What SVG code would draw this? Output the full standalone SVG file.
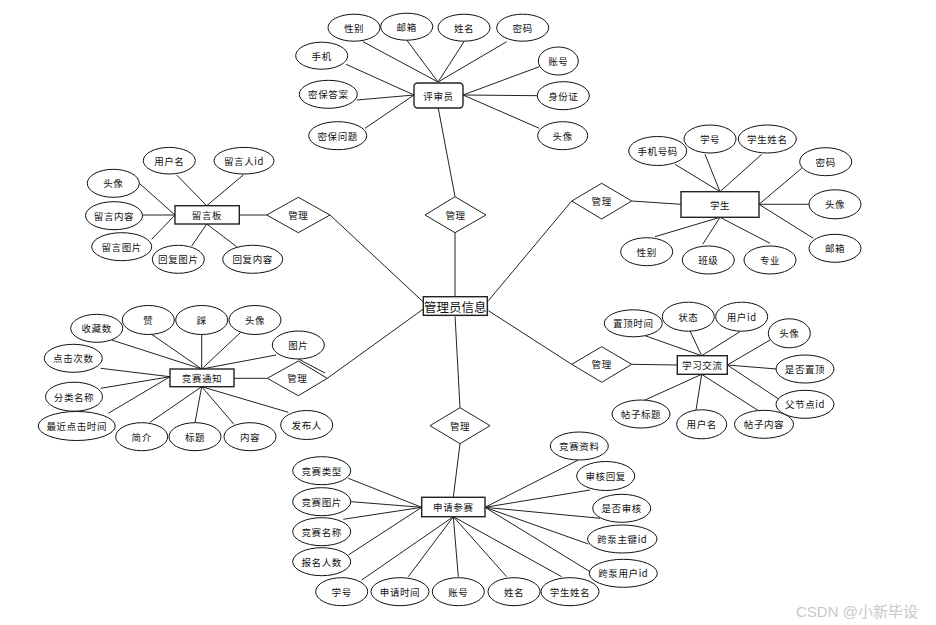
<svg xmlns="http://www.w3.org/2000/svg" width="936" height="625" viewBox="0 0 936 625">
<style>
.e{fill:#fff;stroke:#111;stroke-width:1}
.b{fill:#fff;stroke:#222;stroke-width:1.4}
.d{fill:#fff;stroke:#222;stroke-width:1}
.c{stroke:#222;stroke-width:1;fill:none}
text{font-family:"Noto Sans CJK SC","Noto Sans",sans-serif;font-size:9.5px;fill:#111;text-anchor:middle;dominant-baseline:central;letter-spacing:0.6px}
.big{font-size:12.5px;letter-spacing:0}
.wm{font-family:"Liberation Sans","Noto Sans CJK SC",sans-serif;font-size:15px;fill:#c8c8c8;text-anchor:start;letter-spacing:0}
</style>
<rect width="936" height="625" fill="#fff"/>
<g id="connectors">
<line class="c" x1="363" y1="41.7" x2="438" y2="82"/>
<line class="c" x1="406.7" y1="40" x2="438" y2="82"/>
<line class="c" x1="464" y1="41.7" x2="438" y2="82"/>
<line class="c" x1="506.7" y1="41.7" x2="438" y2="82"/>
<line class="c" x1="346" y1="64.3" x2="414" y2="95"/>
<line class="c" x1="356.7" y1="100" x2="414" y2="95"/>
<line class="c" x1="365" y1="128.3" x2="414" y2="95"/>
<line class="c" x1="539.3" y1="66.7" x2="463" y2="95"/>
<line class="c" x1="537.3" y1="95.7" x2="463" y2="95" stroke-width="1.6"/>
<line class="c" x1="539.3" y1="128.3" x2="463" y2="95"/>
<line class="c" x1="438.3" y1="108.3" x2="455" y2="196.7"/>
<line class="c" x1="455" y1="232.7" x2="455" y2="296.7"/>
<line class="c" x1="455" y1="315.3" x2="460" y2="407.7"/>
<line class="c" x1="460" y1="443.7" x2="453.3" y2="497.3"/>
<line class="c" x1="330" y1="215" x2="423.3" y2="302"/>
<line class="c" x1="327.3" y1="378.3" x2="423.3" y2="309"/>
<line class="c" x1="571.7" y1="201" x2="487.3" y2="302"/>
<line class="c" x1="571.7" y1="364.3" x2="487.3" y2="310"/>
<line class="c" x1="239.3" y1="215" x2="266.7" y2="215" stroke-width="1.6"/>
<line class="c" x1="234" y1="378.3" x2="267.3" y2="378.3" stroke-width="1.3"/>
<line class="c" x1="631.7" y1="201" x2="681" y2="204.3"/>
<line class="c" x1="631.7" y1="364.3" x2="677.3" y2="365" stroke-width="1.3"/>
<!-- 留言板 -->
<line class="c" x1="176.7" y1="175" x2="206.7" y2="205.7"/>
<line class="c" x1="243.3" y1="175" x2="206.7" y2="205.7"/>
<line class="c" x1="139.3" y1="183.3" x2="175" y2="215"/>
<line class="c" x1="142.7" y1="215" x2="175" y2="215" stroke-width="1.6"/>
<line class="c" x1="151.7" y1="239.3" x2="175" y2="215"/>
<line class="c" x1="191.7" y1="246" x2="206.7" y2="224"/>
<line class="c" x1="236.7" y1="246.7" x2="206.7" y2="224"/>
<!-- 学生 -->
<line class="c" x1="675" y1="164.3" x2="720" y2="191.7"/>
<line class="c" x1="705" y1="154.3" x2="720" y2="191.7"/>
<line class="c" x1="761.7" y1="154.3" x2="720" y2="191.7"/>
<line class="c" x1="801.7" y1="168.3" x2="759" y2="204.3"/>
<line class="c" x1="809.3" y1="204.3" x2="759" y2="204.3" stroke-width="1.6"/>
<line class="c" x1="813.3" y1="238.3" x2="759" y2="204.3"/>
<line class="c" x1="655" y1="236.7" x2="720" y2="217.3"/>
<line class="c" x1="702.7" y1="244.3" x2="720" y2="217.3"/>
<line class="c" x1="770" y1="243.3" x2="720" y2="217.3"/>
<!-- 竞赛通知 -->
<line class="c" x1="111.7" y1="340" x2="201.7" y2="369"/>
<line class="c" x1="151.7" y1="334.3" x2="201.7" y2="369"/>
<line class="c" x1="201.7" y1="334.3" x2="201.7" y2="369"/>
<line class="c" x1="240.7" y1="332.3" x2="201.7" y2="369"/>
<line class="c" x1="276" y1="355" x2="201.7" y2="369"/>
<line class="c" x1="100.7" y1="368.3" x2="170" y2="376.7"/>
<line class="c" x1="100.7" y1="388.3" x2="170" y2="376.7"/>
<line class="c" x1="108.3" y1="413.3" x2="170" y2="376.7"/>
<line class="c" x1="150" y1="422.3" x2="201.7" y2="386.7"/>
<line class="c" x1="195" y1="422.7" x2="201.7" y2="386.7"/>
<line class="c" x1="234" y1="424.3" x2="201.7" y2="386.7"/>
<line class="c" x1="288.3" y1="412.3" x2="201.7" y2="386.7"/>
<line class="c" x1="298.3" y1="359" x2="325" y2="373"/>
<!-- 学习交流 -->
<line class="c" x1="645" y1="335.7" x2="701.7" y2="355.7"/>
<line class="c" x1="690" y1="331" x2="701.7" y2="355.7"/>
<line class="c" x1="740" y1="331.7" x2="701.7" y2="355.7"/>
<line class="c" x1="770" y1="340" x2="727.3" y2="365"/>
<line class="c" x1="776.7" y1="369" x2="727.3" y2="365"/>
<line class="c" x1="782.7" y1="401.7" x2="727.3" y2="365"/>
<line class="c" x1="640" y1="402.3" x2="701.7" y2="374.3"/>
<line class="c" x1="696" y1="410" x2="701.7" y2="374.3"/>
<line class="c" x1="760" y1="411.7" x2="701.7" y2="374.3"/>
<!-- 申请参赛 -->
<line class="c" x1="348.3" y1="478.3" x2="421.7" y2="507.3"/>
<line class="c" x1="351" y1="501.7" x2="421.7" y2="507.3"/>
<line class="c" x1="343.3" y1="519.3" x2="421.7" y2="507.3"/>
<line class="c" x1="348.3" y1="555" x2="421.7" y2="507.3"/>
<line class="c" x1="361.7" y1="580" x2="453.3" y2="516.7"/>
<line class="c" x1="408.3" y1="576.7" x2="453.3" y2="516.7"/>
<line class="c" x1="458.3" y1="576.7" x2="453.3" y2="516.7"/>
<line class="c" x1="506.7" y1="576.7" x2="453.3" y2="516.7"/>
<line class="c" x1="561.7" y1="576.7" x2="453.3" y2="516.7"/>
<line class="c" x1="578.3" y1="460" x2="485" y2="507.3"/>
<line class="c" x1="590" y1="490" x2="485" y2="507.3"/>
<line class="c" x1="600" y1="518.3" x2="485" y2="507.3"/>
<line class="c" x1="588.3" y1="544" x2="485" y2="507.3"/>
<line class="c" x1="590" y1="571.7" x2="485" y2="507.3"/>
</g>

<g id="admin"><rect x="424.5" y="298" width="64" height="18.6" fill="#cfe0f0"/><rect class="b" x="423.3" y="296.7" width="64" height="18.6" stroke-width="1.2"/><text class="big" x="455.3" y="306">管理员信息</text></g>

<g id="rel-top"><polygon class="d" points="455,196.7 486,215 455,232.7 425,215"/><text x="455.5" y="215">管理</text></g>
<g id="rel-board"><polygon class="d" points="266.7,215 298.3,197.3 330,215 298.3,232.7"/><text x="298.3" y="215">管理</text></g>
<g id="rel-notice"><polygon class="d" points="267.3,378.3 298.3,361 327.3,378.3 298.3,395.7"/><text x="297.3" y="378.3">管理</text></g>
<g id="rel-student"><polygon class="d" points="571.7,201 601.7,183.3 631.7,201 601.7,219"/><text x="601.7" y="201">管理</text></g>
<g id="rel-study"><polygon class="d" points="571.7,364.3 601.7,346.7 631.7,364.3 601.7,382.3"/><text x="601.7" y="364.3">管理</text></g>
<g id="rel-apply"><polygon class="d" points="430,425.7 460,407.7 490,425.7 460,443.7"/><text x="460" y="425.7">管理</text></g>

<g id="reviewer"><rect class="b" x="414" y="83" width="49" height="25" rx="3.5" stroke-width="1.2"/><text x="438.5" y="95.5">评审员</text></g>
<g id="rv-gender"><ellipse class="e" cx="354" cy="27.7" rx="26" ry="13.5"/><text x="354" y="27.7">性别</text></g>
<g id="rv-email"><ellipse class="e" cx="406.7" cy="26.7" rx="26" ry="13.5"/><text x="406.7" y="26.7">邮箱</text></g>
<g id="rv-name"><ellipse class="e" cx="464" cy="27.7" rx="26" ry="13.5"/><text x="464" y="27.7">姓名</text></g>
<g id="rv-pwd"><ellipse class="e" cx="522.7" cy="27.7" rx="26" ry="13.5"/><text x="522.7" y="27.7">密码</text></g>
<g id="rv-phone"><ellipse class="e" cx="321.7" cy="55.7" rx="26" ry="13.5"/><text x="321.7" y="55.7">手机</text></g>
<g id="rv-ans"><ellipse class="e" cx="328.3" cy="94.3" rx="29" ry="14"/><text x="328.3" y="94.3">密保答案</text></g>
<g id="rv-q"><ellipse class="e" cx="337.7" cy="135.7" rx="29" ry="14"/><text x="337.7" y="135.7">密保问题</text></g>
<g id="rv-acct"><ellipse class="e" cx="558.3" cy="61" rx="20" ry="14"/><text x="558.3" y="61">账号</text></g>
<g id="rv-id"><ellipse class="e" cx="563.3" cy="95.7" rx="26" ry="14"/><text x="563.3" y="95.7">身份证</text></g>
<g id="rv-avatar"><ellipse class="e" cx="562.7" cy="135.7" rx="25" ry="14"/><text x="562.7" y="135.7">头像</text></g>

<g id="board"><rect class="b" x="175" y="205.7" width="64.3" height="18.3" stroke-width="1.6"/><text x="207" y="215">留言板</text></g>
<g id="bd-user"><ellipse class="e" cx="169.3" cy="160.7" rx="26" ry="13.3"/><text x="169.3" y="160.7">用户名</text></g>
<g id="bd-uid"><ellipse class="e" cx="244" cy="160.7" rx="30" ry="13.3"/><text x="244" y="160.7">留言人id</text></g>
<g id="bd-avatar"><ellipse class="e" cx="113.3" cy="183.3" rx="26" ry="14"/><text x="113.3" y="183.3">头像</text></g>
<g id="bd-content"><ellipse class="e" cx="114" cy="215.7" rx="28.5" ry="14"/><text x="114" y="215.7">留言内容</text></g>
<g id="bd-pic"><ellipse class="e" cx="121.7" cy="246.7" rx="30" ry="14"/><text x="121.7" y="246.7">留言图片</text></g>
<g id="bd-rpic"><ellipse class="e" cx="178.3" cy="259.3" rx="26" ry="14"/><text x="178.3" y="259.3">回复图片</text></g>
<g id="bd-rcontent"><ellipse class="e" cx="252.7" cy="259.3" rx="30" ry="14"/><text x="252.7" y="259.3">回复内容</text></g>

<g id="student"><rect class="b" x="681" y="191.7" width="78" height="25.6" stroke-width="1.2"/><text x="720" y="204.5">学生</text></g>
<g id="st-phone"><ellipse class="e" cx="657.7" cy="151" rx="29" ry="14.5"/><text x="657.7" y="151">手机号码</text></g>
<g id="st-no"><ellipse class="e" cx="710" cy="139" rx="26" ry="14"/><text x="710" y="139">学号</text></g>
<g id="st-name"><ellipse class="e" cx="767.3" cy="139" rx="29" ry="14"/><text x="767.3" y="139">学生姓名</text></g>
<g id="st-pwd"><ellipse class="e" cx="825.7" cy="161.7" rx="26" ry="14"/><text x="825.7" y="161.7">密码</text></g>
<g id="st-avatar"><ellipse class="e" cx="835" cy="204.3" rx="26" ry="14.5"/><text x="835" y="204.3">头像</text></g>
<g id="st-email"><ellipse class="e" cx="835" cy="248.3" rx="26" ry="14"/><text x="835" y="248.3">邮箱</text></g>
<g id="st-gender"><ellipse class="e" cx="646.7" cy="251.7" rx="26" ry="14"/><text x="646.7" y="251.7">性别</text></g>
<g id="st-class"><ellipse class="e" cx="708.3" cy="260" rx="26" ry="14"/><text x="708.3" y="260">班级</text></g>
<g id="st-major"><ellipse class="e" cx="770" cy="260" rx="26" ry="14"/><text x="770" y="260">专业</text></g>

<g id="notice"><rect class="b" x="170" y="369" width="64" height="17.7" stroke-width="1.6"/><text x="202" y="377.8">竞赛通知</text></g>
<g id="nt-fav"><ellipse class="e" cx="96.7" cy="328.3" rx="26" ry="14"/><text x="96.7" y="328.3">收藏数</text></g>
<g id="nt-up"><ellipse class="e" cx="148.3" cy="320" rx="26" ry="14.5"/><text x="148.3" y="320">赞</text></g>
<g id="nt-down"><ellipse class="e" cx="201.7" cy="320" rx="26" ry="14.5"/><text x="201.7" y="320">踩</text></g>
<g id="nt-avatar"><ellipse class="e" cx="255" cy="320" rx="26" ry="14.5"/><text x="255" y="320">头像</text></g>
<g id="nt-pic"><ellipse class="e" cx="298.3" cy="345" rx="26" ry="14"/><text x="298.3" y="345">图片</text></g>
<g id="nt-clicks"><ellipse class="e" cx="73.3" cy="358.3" rx="29" ry="14"/><text x="73.3" y="358.3">点击次数</text></g>
<g id="nt-cat"><ellipse class="e" cx="74" cy="396.7" rx="28.5" ry="14.5"/><text x="74" y="396.7">分类名称</text></g>
<g id="nt-last"><ellipse class="e" cx="76.7" cy="426" rx="38.5" ry="14.5"/><text x="76.7" y="426">最近点击时间</text></g>
<g id="nt-intro"><ellipse class="e" cx="141.7" cy="436.7" rx="26" ry="14"/><text x="141.7" y="436.7">简介</text></g>
<g id="nt-title"><ellipse class="e" cx="195" cy="436.7" rx="26" ry="14"/><text x="195" y="436.7">标题</text></g>
<g id="nt-content"><ellipse class="e" cx="250" cy="436.7" rx="26" ry="14"/><text x="250" y="436.7">内容</text></g>
<g id="nt-pub"><ellipse class="e" cx="306.7" cy="425" rx="26" ry="14.5"/><text x="306.7" y="425">发布人</text></g>

<g id="study"><rect class="b" x="677.3" y="355.7" width="50" height="18.6" stroke-width="1.8"/><text x="702.3" y="365">学习交流</text></g>
<g id="sd-toptime"><ellipse class="e" cx="633.3" cy="323.3" rx="29" ry="13.5"/><text x="633.3" y="323.3">置顶时间</text></g>
<g id="sd-state"><ellipse class="e" cx="688.3" cy="316.7" rx="26" ry="14.5"/><text x="688.3" y="316.7">状态</text></g>
<g id="sd-uid"><ellipse class="e" cx="741.7" cy="316.7" rx="26" ry="14.5"/><text x="741.7" y="316.7">用户id</text></g>
<g id="sd-avatar"><ellipse class="e" cx="789.3" cy="333.3" rx="21" ry="14.5"/><text x="789.3" y="333.3">头像</text></g>
<g id="sd-istop"><ellipse class="e" cx="805" cy="369" rx="29" ry="14"/><text x="805" y="369">是否置顶</text></g>
<g id="sd-parent"><ellipse class="e" cx="805" cy="404.3" rx="29" ry="14"/><text x="805" y="404.3">父节点id</text></g>
<g id="sd-ptitle"><ellipse class="e" cx="641" cy="414" rx="29" ry="14"/><text x="641" y="414">帖子标题</text></g>
<g id="sd-user"><ellipse class="e" cx="701.7" cy="424.3" rx="25" ry="14.5"/><text x="701.7" y="424.3">用户名</text></g>
<g id="sd-pcontent"><ellipse class="e" cx="764" cy="424.3" rx="29.5" ry="14"/><text x="764" y="424.3">帖子内容</text></g>

<g id="apply"><rect class="b" x="421.7" y="497.3" width="63.3" height="19.4" stroke-width="1.6"/><text x="453.3" y="507">申请参赛</text></g>
<g id="ap-type"><ellipse class="e" cx="321.7" cy="470.7" rx="29" ry="14"/><text x="321.7" y="470.7">竞赛类型</text></g>
<g id="ap-pic"><ellipse class="e" cx="321.7" cy="501.7" rx="29" ry="14"/><text x="321.7" y="501.7">竞赛图片</text></g>
<g id="ap-name"><ellipse class="e" cx="321.7" cy="531.7" rx="29" ry="14"/><text x="321.7" y="531.7">竞赛名称</text></g>
<g id="ap-count"><ellipse class="e" cx="321.7" cy="561.7" rx="29" ry="14"/><text x="321.7" y="561.7">报名人数</text></g>
<g id="ap-no"><ellipse class="e" cx="341.7" cy="591.7" rx="26" ry="14"/><text x="341.7" y="591.7">学号</text></g>
<g id="ap-time"><ellipse class="e" cx="400" cy="591.7" rx="29" ry="14"/><text x="400" y="591.7">申请时间</text></g>
<g id="ap-acct"><ellipse class="e" cx="458.3" cy="591.7" rx="26" ry="14"/><text x="458.3" y="591.7">账号</text></g>
<g id="ap-uname"><ellipse class="e" cx="514" cy="591.7" rx="26" ry="14"/><text x="514" y="591.7">姓名</text></g>
<g id="ap-sname"><ellipse class="e" cx="570" cy="591.7" rx="29" ry="14"/><text x="570" y="591.7">学生姓名</text></g>
<g id="ap-data"><ellipse class="e" cx="579.3" cy="446" rx="29" ry="14"/><text x="579.3" y="446">竞赛资料</text></g>
<g id="ap-reply"><ellipse class="e" cx="605.7" cy="476" rx="29" ry="14.5"/><text x="605.7" y="476">审核回复</text></g>
<g id="ap-audited"><ellipse class="e" cx="621.7" cy="508.3" rx="29" ry="14"/><text x="621.7" y="508.3">是否审核</text></g>
<g id="ap-pk"><ellipse class="e" cx="622.3" cy="539" rx="34.7" ry="14"/><text x="622.3" y="539">跨泵主键id</text></g>
<g id="ap-uid"><ellipse class="e" cx="623.3" cy="573.3" rx="34" ry="14"/><text x="623.3" y="573.3">跨泵用户id</text></g>

<text class="wm" x="796" y="611">CSDN @小新毕设</text>
</svg>
